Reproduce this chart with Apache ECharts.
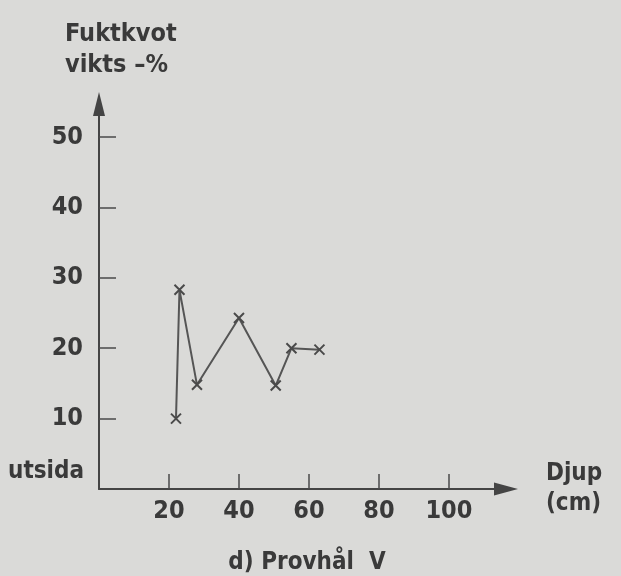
<!DOCTYPE html>
<html>
<head>
<meta charset="utf-8">
<script src="https://cdn.jsdelivr.net/npm/echarts@6/dist/echarts.min.js"></script>
<style>
html,body{margin:0;padding:0;background:#dadad8;}
#chart{width:621px;height:576px;}
</style>
</head>
<body>
<div id="chart"></div>
<script>
var depth = [22, 23, 28, 40, 50.5, 55, 63];
var moisture = [10, 28.3, 14.8, 24.3, 14.7, 20, 19.8];
var xTicks = [20, 40, 60, 80, 100];
var yTicks = [10, 20, 30, 40, 50];

var ink = '#3a3a3a';
var font = '"DejaVu Sans Condensed", "DejaVu Sans"';
var chart = echarts.init(document.getElementById('chart'));
chart.setOption({
  backgroundColor: '#dadad8',
  animation: false,
  title: [
    { text: 'Fuktkvot\nvikts –%', left: 60, top: 14,
      textStyle: { color: ink, fontFamily: font, fontWeight: 'bold', fontSize: 25, lineHeight: 31 } }
  ],
  grid: { left: 99, right: 121, top: 104, bottom: 87 },
  xAxis: {
    type: 'value', min: 0, max: 114.6,
    name: 'Djup\n(cm)', nameLocation: 'end', nameGap: 46,
    nameTextStyle: { color: ink, fontFamily: font, fontWeight: 'bold', fontSize: 24, lineHeight: 30, align: 'left', verticalAlign: 'middle', padding: [0,0,6,0] },
    splitLine: { show: false },
    axisLine: { onZero: false, symbol: ['none', 'triangle'], symbolSize: [13, 24], symbolOffset: [0, 6],
      lineStyle: { color: '#444', width: 2 } },
    axisTick: { inside: true, length: 15, customValues: xTicks, lineStyle: { color: '#4a4a4a', width: 1.5 } },
    axisLabel: { customValues: xTicks, margin: 10, color: ink, fontFamily: font, fontWeight: 'bold', fontSize: 25 }
  },
  yAxis: {
    type: 'value', min: 0, max: 54.7,
    splitLine: { show: false },
    axisLine: { onZero: false, symbol: ['none', 'triangle'], symbolSize: [12, 24], symbolOffset: [0, 0],
      lineStyle: { color: '#444', width: 2 } },
    axisTick: { inside: true, length: 17, customValues: yTicks, lineStyle: { color: '#4a4a4a', width: 1.5 } },
    axisLabel: { customValues: yTicks, margin: 16, color: ink, fontFamily: font, fontWeight: 'bold', fontSize: 25 }
  },
  graphic: [
    { type: 'text', left: 8, top: 460,
      style: { text: 'utsida', fill: ink, font: 'bold 24px "DejaVu Sans Condensed", "DejaVu Sans"' } },
    { type: 'text', x: 307, y: 563,
      style: { text: 'd) Provhål  V', fill: ink, align: 'center', verticalAlign: 'middle', font: 'bold 24px "DejaVu Sans Condensed", "DejaVu Sans"' } }
  ],
  series: [{
    type: 'line',
    data: depth.map(function (d, i) { return [d, moisture[i]]; }),
    symbol: 'path://M0,0L10,10M10,0L0,10',
    symbolSize: 10,
    showAllSymbol: true,
    itemStyle: { color: 'rgba(0,0,0,0)', borderColor: '#4a4a4a', borderWidth: 2 },
    lineStyle: { color: '#555', width: 2 }
  }]
});
</script>
</body>
</html>
